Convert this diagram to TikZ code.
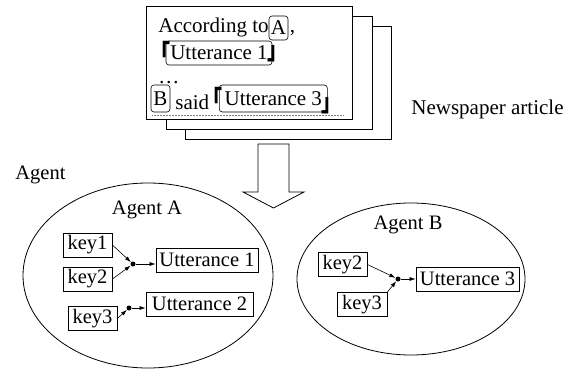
\documentclass[tikz,border=0pt]{standalone}
\usepackage{graphicx}
\usepackage{fontspec}
\setmainfont{Liberation Serif}
\newfontfamily\cjk{Noto Sans CJK JP}
\usetikzlibrary{arrows.meta,shapes.geometric}

% corner quotation marks, stretched upright, set in a zero-width box
\newcommand{\tallmark}[1]{\makebox[0pt][l]{\scalebox{1}[1.3]{#1}}}

\begin{document}
\begin{tikzpicture}[x=1pt,y=-1pt,
  font=\fontsize{20.5}{24}\selectfont,
  line width=0.8pt,
  page/.style={draw, fill=white},
  tag/.style={draw, rounded corners=3pt, inner sep=0pt, line width=0.6pt},
  word/.style={inner sep=0pt, anchor=base west, font=\fontsize{21}{24}\selectfont},
  bracket/.style={inner sep=0pt, anchor=base west, font=\cjk\bfseries\fontsize{20}{22}\selectfont},
  keybox/.style={draw, inner sep=0pt, minimum height=24pt, minimum width=49pt},
  uttbox/.style={draw, inner sep=0pt, minimum height=24pt},
  agent/.style={draw, ellipse, inner sep=0pt},
  junction/.style={circle, fill, inner sep=0pt, minimum size=5pt},
  arr/.style={-{Latex[length=6pt,width=4pt]}, line width=0.6pt}]

\useasboundingbox (0,0) rectangle (576,369);

% stack of article pages
\draw[page] (185,26) rectangle (391,139);
\draw[page] (166,16) rectangle (372,129);
\draw[page] (146,6) rectangle (352,119);

% article text
\node[word] (acc) at (158,33) {According to};
\node[tag, minimum width=19pt, minimum height=24pt, font=\fontsize{21}{24}\selectfont] (srcA) at (278.5,28) {A};
\node[word] (comma) at (289.5,33) {,};
\node[bracket] (ob1) at (149.4,63.6) {\tallmark{「}};
\node[tag, minimum width=106pt, minimum height=24pt, font=\fontsize{21}{24}\selectfont] (u1) at (219,53) {Utterance 1};
\node[bracket] (cb1) at (266.1,60) {\tallmark{」}};
\node[word] (dots) at (158,84) {\dots};
\node[tag, minimum width=19pt, minimum height=27pt, font=\fontsize{21}{24}\selectfont] (srcB) at (160.5,98.5) {B};
\node[word] (said) at (175,110) {said};
\node[bracket] (ob2) at (201.1,109.6) {\tallmark{「}};
\node[tag, minimum width=108pt, minimum height=27pt, font=\fontsize{21}{24}\selectfont] (u3t) at (273.3,98.5) {Utterance 3};
\node[bracket] (cb2) at (320.1,111) {\tallmark{」}};
\coordinate (rl) at (152,115);
\coordinate (rr) at (343,115);
\draw[gray, densely dotted, line width=0.5pt] (rl) -- (rr);

\node[anchor=base west, inner sep=0pt, font=\fontsize{21}{24}\selectfont] (news) at (411,114) {Newspaper article};

% conversion arrow
\draw[line width=0.8pt] (258,144) -- (289,144) -- (289,192) -- (304,192)
  -- (273.5,208) -- (243,192) -- (258,192) -- cycle;

\node[anchor=base west, inner sep=0pt] (agentlbl) at (15,179) {Agent};

% agent A
\node[agent, minimum width=250pt, minimum height=185pt] (agA) at (148,275.5) {};
\node (agAlbl) at (147,210) {Agent A};
\node[keybox] (k1A) at (87.5,245) {key1};
\node[keybox] (k2A) at (87.5,279) {key2};
\node[keybox] (k3A) at (92.5,318.5) {key3};
\node[uttbox, minimum width=102pt] (u1A) at (207,260) {Utterance 1};
\node[uttbox, minimum width=107pt] (u2A) at (199.5,304) {Utterance 2};
\node[junction] (jA1) at (133,264) {};
\node[junction] (jA2) at (129,308) {};
\draw[arr] (k1A.east) -- (jA1);
\draw[arr] (k2A.east) -- (jA1);
\draw[arr] (jA1) -- (jA1 -| u1A.west);
\draw[arr] (k3A.east) -- (jA2);
\draw[arr] (jA2) -- (jA2 -| u2A.west);

% agent B
\node[agent, minimum width=228pt, minimum height=152pt] (agB) at (411,279) {};
\node (agBlbl) at (408,225) {Agent B};
\node[keybox] (k2B) at (342.5,264.5) {key2};
\node[keybox, minimum width=50pt] (k3B) at (362,304.5) {key3};
\node[uttbox, minimum width=103pt] (u3B) at (467.5,279) {Utterance 3};
\node[junction] (jB) at (398,279) {};
\draw[arr] (k2B.east) -- (jB);
\draw[arr] (k3B.north east) -- (jB);
\draw[arr] (jB) -- (u3B.west);

\end{tikzpicture}
\end{document}
